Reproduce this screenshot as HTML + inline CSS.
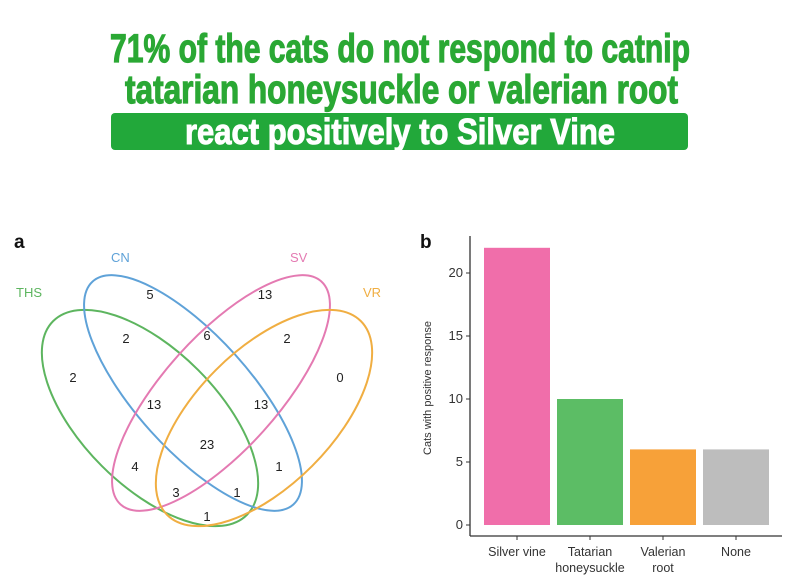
<!DOCTYPE html>
<html><head><meta charset="utf-8"><style>body{margin:0;background:#fff}svg{display:block}</style></head>
<body>
<svg width="800" height="585" viewBox="0 0 800 585" xmlns="http://www.w3.org/2000/svg" font-family="Liberation Sans, Arial, sans-serif">
<g font-family="Liberation Sans Narrow, Liberation Sans, sans-serif" font-weight="bold">
<text x="110" y="62" font-size="40" fill="#2aa834" stroke="#2aa834" stroke-width="1.2" textLength="580" lengthAdjust="spacingAndGlyphs">71% of the cats do not respond to catnip</text>
<text x="125" y="103" font-size="40" fill="#2aa834" stroke="#2aa834" stroke-width="1.2" textLength="553" lengthAdjust="spacingAndGlyphs">tatarian honeysuckle or valerian root</text>
<rect x="111" y="113" width="577" height="37" rx="4" fill="#22a83a"/>
<text x="185" y="144" font-size="36" fill="#fff" stroke="#fff" stroke-width="1" textLength="430" lengthAdjust="spacingAndGlyphs">react positively to Silver Vine</text>
</g>
<g>
<text x="14" y="248" font-size="19" font-weight="bold" fill="#111">a</text>
<g fill="none" stroke-width="2">
<ellipse cx="150" cy="418" rx="137" ry="68" transform="rotate(45 150 418)" stroke="#5db55f"/>
<ellipse cx="193" cy="393" rx="150" ry="57" transform="rotate(48 193 393)" stroke="#5fa2d8"/>
<ellipse cx="221" cy="393" rx="150" ry="57" transform="rotate(-48 221 393)" stroke="#e47ab2"/>
<ellipse cx="264" cy="418" rx="137" ry="68" transform="rotate(-45 264 418)" stroke="#f0ae42"/>
</g>
<g font-size="13">
<text x="16" y="297" fill="#5db55f">THS</text>
<text x="111" y="262" fill="#5fa2d8">CN</text>
<text x="290" y="262" fill="#e47ab2">SV</text>
<text x="363" y="297" fill="#f0ae42">VR</text>
</g>
<g font-size="13" fill="#222" text-anchor="middle">
<text x="150" y="299">5</text><text x="265" y="299">13</text>
<text x="126" y="343">2</text><text x="207" y="340">6</text><text x="287" y="343">2</text>
<text x="73" y="382">2</text><text x="340" y="382">0</text>
<text x="154" y="409">13</text><text x="261" y="409">13</text>
<text x="207" y="449">23</text>
<text x="135" y="471">4</text><text x="279" y="471">1</text>
<text x="176" y="497">3</text><text x="237" y="497">1</text>
<text x="207" y="521">1</text>
</g>
</g>
<text x="420" y="248" font-size="19" font-weight="bold" fill="#111">b</text>
<g id="bar-chart"></g>
</svg>
<script>
const categories = [["Silver vine"], ["Tatarian", "honeysuckle"], ["Valerian", "root"], ["None"]];
const values = [22, 10, 6, 6];
const tickValues = [0, 5, 10, 15, 20];
const colors = ["#f06eaa", "#5cbd65", "#f7a139", "#bdbdbd"];
const NS = "http://www.w3.org/2000/svg";
const g = document.getElementById("bar-chart");
const x0 = 470, x1 = 782, y0 = 525, yAxisBottom = 536;
const yScale = v => y0 - v * 12.6;
const band = 73, bw = 66, firstCenter = 517;
const xScale = i => firstCenter + i * band;
function mk(tag, attrs) { const e = document.createElementNS(NS, tag); for (const k in attrs) e.setAttribute(k, attrs[k]); g.appendChild(e); return e; }
let ax = mk("line", {x1: x0, y1: 236, x2: x0, y2: yAxisBottom, stroke: "#333", "stroke-width": 1.3});


let axx = mk("line", {x1: x0, y1: yAxisBottom, x2: x1, y2: yAxisBottom, stroke: "#333", "stroke-width": 1.3});


tickValues.forEach(t => {
  const y = yScale(t);
  const tk = mk("line", {x1: x0 - 4, y1: y, x2: x0, y2: y, stroke: "#333"});
  
  
  const tl = mk("text", {x: x0 - 7, y: y + 4, "font-size": 13, "text-anchor": "end", fill: "#333"});
  tl.textContent = t;
  
  
});
values.forEach((v, i) => {
  const cx = xScale(i);
  const r = mk("rect", {x: cx - bw / 2, y: yScale(v), width: bw, height: y0 - yScale(v), fill: colors[i]});
  
  
  const tk = mk("line", {x1: cx, y1: yAxisBottom, x2: cx, y2: yAxisBottom + 4, stroke: "#333"});
  
  
  categories[i].forEach((line, j) => {
    const t = mk("text", {x: cx, y: 556 + j * 16, "font-size": 12.5, "text-anchor": "middle", fill: "#333"});
    t.textContent = line;
    
    
  });
});
const yt = mk("text", {x: 0, y: 0, "font-size": 11, "text-anchor": "middle", fill: "#333", transform: "translate(431 388) rotate(-90)"});
yt.textContent = "Cats with positive response";


</script>
</body></html>
